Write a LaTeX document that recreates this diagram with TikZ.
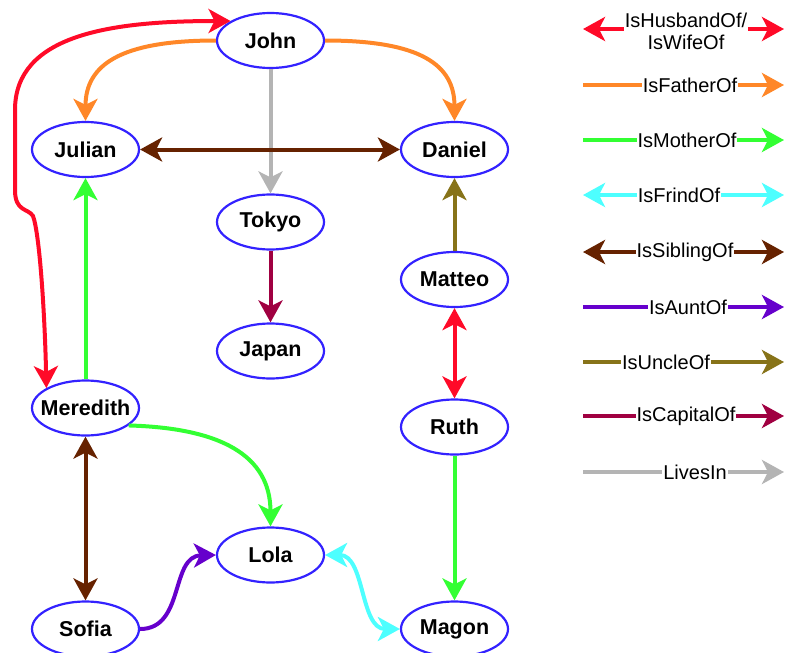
\documentclass[tikz,border=0pt]{standalone}
\usepackage{fontspec}
\setmainfont{Liberation Sans}
\usetikzlibrary{arrows.meta,shapes.geometric}

\definecolor{nodeblue}{RGB}{51,34,255}
\definecolor{cHus}{RGB}{255,10,40}
\definecolor{cFat}{RGB}{255,135,40}
\definecolor{cMot}{RGB}{51,255,51}
\definecolor{cFri}{RGB}{77,255,255}
\definecolor{cSib}{RGB}{102,34,0}
\definecolor{cAun}{RGB}{102,0,204}
\definecolor{cUnc}{RGB}{135,115,25}
\definecolor{cCap}{RGB}{160,0,65}
\definecolor{cLiv}{RGB}{180,180,180}

% zero-width label so every ellipse keeps the same size
\newcommand\nodetext[1]{\makebox[0pt]{#1}}

\begin{document}
\begin{tikzpicture}[x=1pt,y=-1pt,
  person/.style={ellipse, draw=nodeblue, line width=2.2pt, fill=white,
    minimum width=107pt, minimum height=55pt, inner sep=0pt,
    font=\fontsize{21.5}{24}\selectfont\bfseries},
  rel/.style={line width=4pt, -{Stealth[length=22pt,width=24pt,inset=6pt]}},
  relboth/.style={line width=4pt,
    {Stealth[length=22pt,width=24pt,inset=6pt]}-{Stealth[length=22pt,width=24pt,inset=6pt]}},
  key/.style={fill=white, inner xsep=1pt, inner ysep=0pt,
    font=\fontsize{20}{22}\selectfont, text=black, align=center}
]
\useasboundingbox (0,0) rectangle (785,653);

% people and places
\node[person] (John)     at (270.5,40.5) {\nodetext{John}};
\node[person] (Julian)   at (85.5,149.5) {\nodetext{Julian}};
\node[person] (Daniel)   at (454.5,149.5) {\nodetext{Daniel}};
\node[person] (Tokyo)    at (270.5,222) {\nodetext{Tokyo}};
\node[person] (Japan)    at (270.5,351) {\nodetext{Japan}};
\node[person] (Matteo)   at (454.5,279.5) {\nodetext{Matteo}};
\node[person] (Ruth)     at (454.5,427) {\nodetext{Ruth}};
\node[person] (Meredith) at (85.5,408) {\nodetext{Meredith}};
\node[person] (Lola)     at (270.5,555) {\nodetext{Lola}};
\node[person] (Sofia)    at (85.5,629) {\nodetext{Sofia}};
\node[person] (Magon)    at (454.5,629) {\nodetext{Magon}};

% relations
\draw[relboth, cHus] (Meredith.153) .. controls (45,320) and (40,235) .. (33,216)
  .. controls (28,208) and (15,212) .. (15,190) -- (15,110)
  .. controls (15,35) and (110,21) .. (John.154);
\draw[rel, cFat] (John.west) .. controls (120,40.5) and (85.5,65) .. (Julian.north);
\draw[rel, cFat] (John.east) .. controls (421,40.5) and (454.5,65) .. (Daniel.north);
\draw[rel, cLiv] (John) -- (Tokyo);
\draw[relboth, cSib] (Julian) -- (Daniel);
\draw[rel, cCap] (Tokyo) -- (Japan);
\draw[rel, cUnc] (Matteo) -- (Daniel);
\draw[relboth, cHus] (Matteo) -- (Ruth);
\draw[rel, cMot] (Ruth) -- (Magon);
\draw[rel, cMot] (Meredith) -- (Julian);
\draw[relboth, cSib] (Meredith) -- (Sofia);
\draw[rel, cMot] (Meredith.-22) .. controls (220,428) and (270.5,455) .. (Lola.north);
\draw[rel, cAun] (Sofia.east) .. controls (185,629) and (170,556) .. (Lola.west);
\draw[relboth, cFri] (Lola.east) .. controls (365,555) and (360,629) .. (Magon.west);

% legend
\coordinate (hA) at (583,29);  \coordinate (hB) at (784,29);
\coordinate (fA) at (583,85);  \coordinate (fB) at (784,85);
\coordinate (mA) at (583,140); \coordinate (mB) at (784,140);
\coordinate (rA) at (583,195); \coordinate (rB) at (784,195);
\coordinate (sA) at (583,252); \coordinate (sB) at (784,252);
\coordinate (aA) at (583,307); \coordinate (aB) at (784,307);
\coordinate (uA) at (583,362); \coordinate (uB) at (784,362);
\coordinate (cA) at (583,416); \coordinate (cB) at (784,416);
\coordinate (lA) at (583,472); \coordinate (lB) at (784,472);

\draw[relboth, cHus] (hA) -- (hB);
\draw[rel, cFat] (fA) -- (fB);
\draw[rel, cMot] (mA) -- (mB);
\draw[relboth, cFri] (rA) -- (rB);
\draw[relboth, cSib] (sA) -- (sB);
\draw[rel, cAun] (aA) -- (aB);
\draw[rel, cUnc] (uA) -- (uB);
\draw[rel, cCap] (cA) -- (cB);
\draw[rel, cLiv] (lA) -- (lB);

\node[key] (kHus) at (686,31)  {IsHusbandOf/\\IsWifeOf};
\node[key] (kFat) at (690,85)  {IsFatherOf};
\node[key] (kMot) at (687,140) {IsMotherOf};
\node[key] (kFri) at (679,195) {IsFrindOf};
\node[key] (kSib) at (685,252) {IsSiblingOf};
\node[key] (kAun) at (688,307) {IsAuntOf};
\node[key] (kUnc) at (666,362) {IsUncleOf};
\node[key] (kCap) at (686,416) {IsCapitalOf};
\node[key] (kLiv) at (695,472) {LivesIn};
\end{tikzpicture}
\end{document}
